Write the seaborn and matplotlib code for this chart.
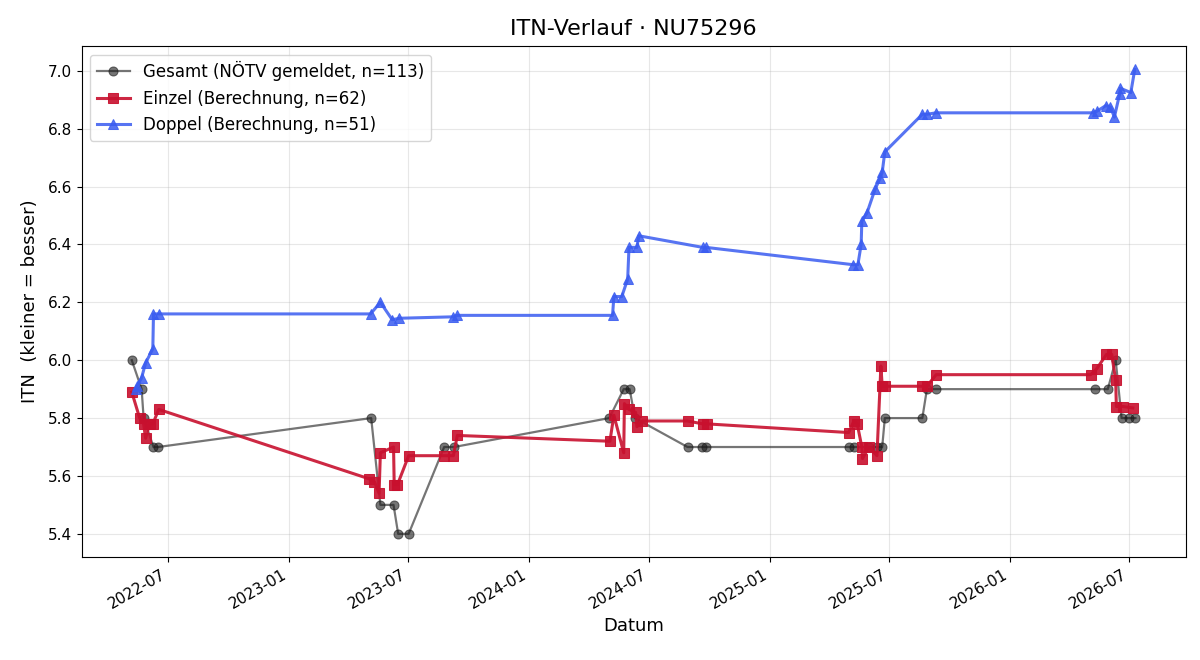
import matplotlib
matplotlib.use("Agg")
import matplotlib.pyplot as plt
import matplotlib.dates as mdates
import pandas as pd
import seaborn as sns

# Gesamt (NÖTV gemeldet)
gesamt_dates = ["2022-05-07", "2022-05-22", "2022-05-25", "2022-06-09", "2022-06-16",
                "2023-05-06", "2023-05-20", "2023-06-09", "2023-06-16", "2023-07-02",
                "2023-08-25", "2023-09-09",
                "2024-05-02", "2024-05-24", "2024-06-02", "2024-06-10", "2024-08-29",
                "2024-09-20", "2024-09-26",
                "2025-05-02", "2025-05-09", "2025-06-01", "2025-06-13", "2025-06-21",
                "2025-06-25", "2025-08-21", "2025-08-28", "2025-09-11",
                "2026-05-10", "2026-05-30", "2026-06-11", "2026-06-20", "2026-07-02",
                "2026-07-11"]
gesamt_itn = [6.0, 5.9, 5.8, 5.7, 5.7,
              5.8, 5.5, 5.5, 5.4, 5.4,
              5.7, 5.7,
              5.8, 5.9, 5.9, 5.8, 5.7,
              5.7, 5.7,
              5.7, 5.7, 5.7, 5.7, 5.7,
              5.8, 5.8, 5.9, 5.9,
              5.9, 5.9, 6.0, 5.8, 5.8,
              5.8]

# Einzel (Berechnung)
einzel_dates = ["2022-05-07", "2022-05-19", "2022-05-25", "2022-05-28", "2022-06-03",
                "2022-06-08", "2022-06-17",
                "2023-05-03", "2023-05-11", "2023-05-18", "2023-05-20", "2023-06-09",
                "2023-06-10", "2023-06-15", "2023-07-02", "2023-08-24", "2023-09-08",
                "2023-09-14",
                "2024-05-03", "2024-05-09", "2024-05-24", "2024-05-25", "2024-06-01",
                "2024-06-11", "2024-06-13", "2024-06-21", "2024-08-29", "2024-09-21",
                "2024-09-27",
                "2025-05-01", "2025-05-09", "2025-05-14", "2025-05-21", "2025-05-22",
                "2025-06-01", "2025-06-13", "2025-06-19", "2025-06-21", "2025-06-25",
                "2025-08-21", "2025-08-28", "2025-09-11",
                "2026-05-04", "2026-05-13", "2026-05-28", "2026-06-05", "2026-06-11",
                "2026-06-12", "2026-06-22", "2026-07-07"]
einzel_itn = [5.89, 5.80, 5.78, 5.73, 5.78,
              5.78, 5.83,
              5.59, 5.58, 5.54, 5.68, 5.70,
              5.57, 5.57, 5.67, 5.67, 5.67,
              5.74,
              5.72, 5.81, 5.68, 5.85, 5.83,
              5.82, 5.77, 5.79, 5.79, 5.78,
              5.78,
              5.75, 5.79, 5.78, 5.70, 5.66,
              5.70, 5.67, 5.98, 5.91, 5.91,
              5.91, 5.91, 5.95,
              5.95, 5.97, 6.02, 6.02, 5.93,
              5.84, 5.84, 5.835]

# Doppel (Berechnung)
doppel_dates = ["2022-05-13", "2022-05-15", "2022-05-22", "2022-05-28", "2022-06-08",
                "2022-06-09", "2022-06-17",
                "2023-05-05", "2023-05-20", "2023-06-07", "2023-06-18", "2023-09-08",
                "2023-09-14",
                "2024-05-07", "2024-05-09", "2024-05-21", "2024-05-30", "2024-06-01",
                "2024-06-13", "2024-06-16", "2024-09-21", "2024-09-26",
                "2025-05-08", "2025-05-15", "2025-05-20", "2025-05-21", "2025-05-29",
                "2025-06-10", "2025-06-18", "2025-06-21", "2025-06-25", "2025-08-21",
                "2025-08-28", "2025-09-11",
                "2026-05-07", "2026-05-13", "2026-05-27", "2026-06-03", "2026-06-09",
                "2026-06-17", "2026-06-18", "2026-07-04", "2026-07-10"]
doppel_itn = [5.90, 5.91, 5.94, 5.99, 6.04,
              6.16, 6.16,
              6.16, 6.20, 6.14, 6.145, 6.15,
              6.155,
              6.155, 6.22, 6.22, 6.28, 6.39,
              6.39, 6.43, 6.39, 6.39,
              6.33, 6.33, 6.40, 6.48, 6.51,
              6.59, 6.63, 6.65, 6.72, 6.85,
              6.85, 6.855,
              6.855, 6.86, 6.88, 6.875, 6.84,
              6.92, 6.94, 6.925, 7.005]

gesamt = pd.DataFrame({"Datum": pd.to_datetime(gesamt_dates), "ITN": gesamt_itn})
einzel = pd.DataFrame({"Datum": pd.to_datetime(einzel_dates), "ITN": einzel_itn})
doppel = pd.DataFrame({"Datum": pd.to_datetime(doppel_dates), "ITN": doppel_itn})

fig, ax = plt.subplots(figsize=(12, 6.6), dpi=100)

sns.lineplot(data=gesamt, x="Datum", y="ITN", ax=ax, estimator=None, sort=False,
             color="#1a1a1a", alpha=0.6, linewidth=1.6, marker="o", markersize=6.5,
             markeredgecolor="#1a1a1a", label="Gesamt (NÖTV gemeldet, n=113)")
sns.lineplot(data=einzel, x="Datum", y="ITN", ax=ax, estimator=None, sort=False,
             color="#c8102e", alpha=0.9, linewidth=2.2, marker="s", markersize=7.5,
             markeredgecolor="#c8102e", label="Einzel (Berechnung, n=62)")
sns.lineplot(data=doppel, x="Datum", y="ITN", ax=ax, estimator=None, sort=False,
             color="#3a5cf0", alpha=0.85, linewidth=2.2, marker="^", markersize=7.5,
             markeredgecolor="#3a5cf0", label="Doppel (Berechnung, n=51)")

ax.set_title("ITN-Verlauf · NU75296", fontsize=16, pad=8)
ax.set_xlabel("Datum", fontsize=13)
ax.set_ylabel("ITN  (kleiner = besser)", fontsize=13, labelpad=6)
ax.grid(True, alpha=0.3)
ax.xaxis.set_major_locator(mdates.MonthLocator(bymonth=[1, 7]))
ax.xaxis.set_major_formatter(mdates.DateFormatter("%Y-%m"))
ax.tick_params(labelsize=11)
ax.legend(loc="upper left", fontsize=12)
fig.autofmt_xdate()
fig.subplots_adjust(left=0.068, right=0.988, top=0.93, bottom=0.156)
fig.savefig("out.png", dpi=100)
